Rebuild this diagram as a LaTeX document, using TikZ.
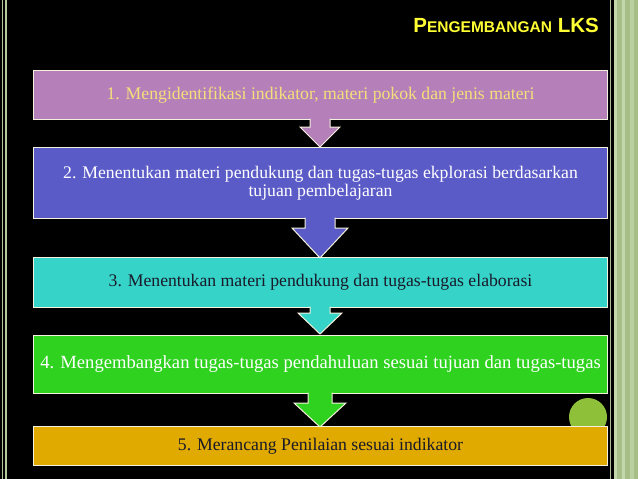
\documentclass[tikz,border=0pt]{standalone}
\usepackage{fontspec}
\setmainfont{Liberation Serif}
\newfontfamily\titlefont{Liberation Sans}
\definecolor{bgframe}{HTML}{B3C99A}
\definecolor{stripA}{HTML}{A7BE88}
\definecolor{stripB}{HTML}{C4D6AC}
\definecolor{cOne}{HTML}{B57FBA}
\definecolor{cTwo}{HTML}{5B5BC8}
\definecolor{cThree}{HTML}{36D4C8}
\definecolor{cFour}{HTML}{2FD21F}
\definecolor{cFive}{HTML}{E0AA00}
\definecolor{tOne}{HTML}{F3E07A}
\definecolor{tDark}{HTML}{1A1A2A}
\definecolor{ttl}{HTML}{FFFF33}
\definecolor{dotc}{HTML}{8FC03A}
\definecolor{edge}{HTML}{F4F1DC}
\begin{document}
\begin{tikzpicture}[x=1pt,y=-1pt,
  stepbox/.style={draw=edge,line width=1pt,minimum width=574pt,inner sep=0pt,anchor=north west,align=center,font=\fontsize{17.7}{18.5}\selectfont},
  arrowfill/.style={line width=1pt,draw=edge}]
\useasboundingbox (0,0) rectangle (638,479);
\fill[black] (0,0) rectangle (638,479);
% frame lines
\draw[bgframe,line width=0.8pt] (2,0) -- (2,479);
\draw[bgframe,line width=1.6pt] (6,0) -- (6,479);
\draw[bgframe!80!gray,line width=1.2pt] (610.5,0) -- (610.5,479);
\fill[stripA] (614,0) rectangle (638,479);
\fill[stripB] (614,0) rectangle (617,479);
\fill[stripB] (622,0) rectangle (625,479);
\fill[stripB!70!stripA] (630,0) rectangle (634,479);
% title
\node[anchor=base east,text=ttl,inner sep=0pt,font=\titlefont\bfseries] (title) at (599,32)
  {{\fontsize{20.5}{20}\selectfont P}{\fontsize{15.5}{20}\selectfont ENGEMBANGAN}\hspace{3pt} {\fontsize{20.5}{20}\selectfont LKS}};
% circle
\fill[dotc] (588,417) circle (19);
% boxes
\node[stepbox,fill=cOne,text=tOne,minimum height=49pt] (b1) at (33,70)
  {1. Mengidentifikasi indikator, materi pokok dan jenis materi};
\node[stepbox,fill=cTwo,text=white,minimum height=71pt] (b2) at (33,147)
  {2. Menentukan materi pendukung dan tugas-tugas ekplorasi berdasarkan\\tujuan pembelajaran};
\node[stepbox,fill=cThree,text=tDark,minimum height=50pt] (b3) at (33,257)
  {3. Menentukan materi pendukung dan tugas-tugas elaborasi};
\node[stepbox,fill=cFour,text=white,minimum height=58pt,font=\fontsize{18.6}{19}\selectfont] (b4) at (33,335)
  {4. Mengembangkan tugas-tugas pendahuluan sesuai tujuan dan tugas-tugas};
\node[stepbox,fill=cFive,text=tDark,minimum height=39pt] (b5) at (33,426)
  {5. Merancang Penilaian sesuai indikator};
% arrows: shaft half-width, head half-width, head top, tip
\foreach \top/\hy/\tip/\sw/\hw/\col in {118/127/147/10/20/cOne, 217/228/258/15/28/cTwo, 306/313/334/10/22/cThree, 392/403/427/12/26/cFour}{
  \fill[\col] (320-\sw,\top) -- (320-\sw,\hy) -- (320-\hw,\hy) -- (320,\tip) -- (320+\hw,\hy) -- (320+\sw,\hy) -- (320+\sw,\top) -- cycle;
  \draw[arrowfill,line join=miter] (320-\sw,\top+0.5) -- (320-\sw,\hy) -- (320-\hw,\hy) -- (320,\tip) -- (320+\hw,\hy) -- (320+\sw,\hy) -- (320+\sw,\top+0.5);
}
\end{tikzpicture}
\end{document}
